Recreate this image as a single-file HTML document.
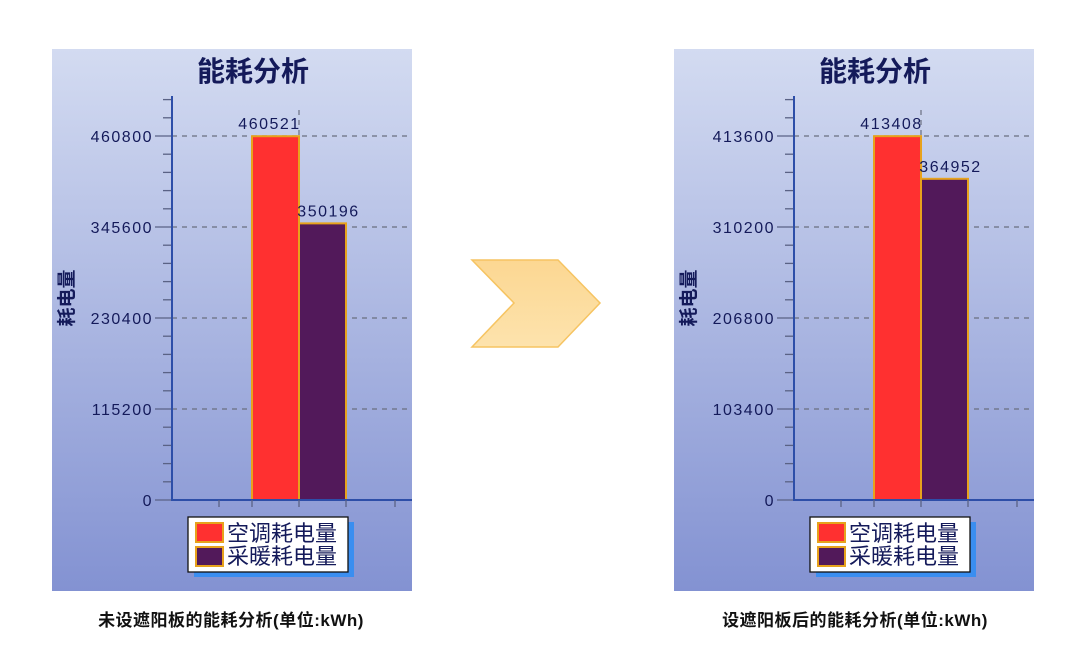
<!DOCTYPE html>
<html><head><meta charset="utf-8">
<style>
html,body{margin:0;padding:0;background:#fff;width:1080px;height:648px;overflow:hidden;}
svg{display:block;}
text{font-family:"Liberation Sans","Noto Sans CJK SC",sans-serif;}
</style></head>
<body>
<svg id="root" width="1080" height="648" viewBox="0 0 1080 648" xmlns="http://www.w3.org/2000/svg">
<defs>
<linearGradient id="bg" x1="0" y1="0" x2="0" y2="1">
<stop offset="0" stop-color="#d3dbf1"/><stop offset="1" stop-color="#8392d2"/>
</linearGradient>
<linearGradient id="arr" x1="0" y1="0" x2="0" y2="1">
<stop offset="0" stop-color="#fcd792"/><stop offset="1" stop-color="#fde3ad"/>
</linearGradient>
</defs>
<polygon points="472,260 558,260 600,303 558,347 472,347 514,303" fill="url(#arr)" stroke="#f6c462" stroke-width="1.5"/>
<text x="231" y="626" text-anchor="middle" font-size="17" font-weight="bold" fill="#111" letter-spacing="0.5">未设遮阳板的能耗分析(单位:kWh)</text>
<text x="855" y="626" text-anchor="middle" font-size="17" font-weight="bold" fill="#111" letter-spacing="0.5">设遮阳板后的能耗分析(单位:kWh)</text>
</svg>
<script>
const categories = ["空调耗电量", "采暖耗电量"];
const beforeValues = [460521, 350196];
const afterValues = [413408, 364952];
const beforeTicks = [0, 115200, 230400, 345600, 460800];
const afterTicks = [0, 103400, 206800, 310200, 413600];
const colors = ["#ff3030", "#52195a"];
const NS = "http://www.w3.org/2000/svg";
const root = document.getElementById("root");
function mk(parent, tag, attrs) {
  const e = document.createElementNS(NS, tag);
  for (const k in attrs) e.setAttribute(k, attrs[k]);
  parent.appendChild(e);
  return e;
}
function drawChart(ox, values, ticks, name) {
  const g = mk(root, "g", {});
  
  
  const bg = mk(g, "rect", {x: ox, y: 49, width: 360, height: 542, fill: "url(#bg)"});
  
  
  const title = mk(g, "text", {x: ox + 201, y: 81, "text-anchor": "middle", "font-size": 28, "font-weight": "bold", fill: "#141a5a"});
  title.textContent = "能耗分析";
  
  
  const ax = ox + 120, y0 = 500, yTop = 136;
  const maxT = ticks[ticks.length - 1];
  const yS = v => y0 - (v / maxT) * (y0 - yTop);
  const step = ticks[1] - ticks[0];
  ticks.forEach((t, i) => {
    const y = yS(t);
    if (i > 0) {
      const gl = mk(g, "line", {x1: ax, y1: y, x2: ox + 360, y2: y, stroke: "#6a6f80", "stroke-width": 1.2, "stroke-dasharray": "5,5"});
      
      
    }
    const tk = mk(g, "line", {x1: ax - 17, y1: y, x2: ax, y2: y, stroke: "#5a6285", "stroke-width": 1.3});
    
    
    const lb = mk(g, "text", {x: ax - 19, y: y + 6, "text-anchor": "end", "font-size": 16, "letter-spacing": 1.5, fill: "#141a5a"});
    lb.textContent = String(t);
    
    
  });
  for (let v = step / 5; v <= maxT + step * 0.4 + 1; v += step / 5) {
    if (Math.abs(v / step - Math.round(v / step)) < 1e-6) continue;
    const y = yS(v);
    const mt = mk(g, "line", {x1: ax - 9, y1: y, x2: ax, y2: y, stroke: "#5a6285", "stroke-width": 1.3});
    
    
  }
  const yt = mk(g, "text", {x: 0, y: 0, transform: `translate(${ox + 21},${298}) rotate(-90)`, "text-anchor": "middle", "font-size": 19, "font-weight": "bold", fill: "#141a5a"});
  yt.textContent = "耗电量";
  
  
  const bw = 47, bx0 = ox + 200;
  values.forEach((v, i) => {
    const x = bx0 + i * bw, y = yS(v);
    const b = mk(g, "rect", {x: x, y: y, width: bw, height: y0 - y, fill: colors[i], stroke: "#e7a21c", "stroke-width": 2});
    
    
    const vl = mk(g, "text", {x: x + bw / 2 + (i === 0 ? -6 : 6), y: y - 7, "text-anchor": "middle", "font-size": 16, "letter-spacing": 1.5, fill: "#141a5a"});
    vl.textContent = String(v);
    
    
  });
  const vd = mk(g, "line", {x1: bx0 + bw, y1: 110, x2: bx0 + bw, y2: yS(values[0]), stroke: "#6a6f80", "stroke-width": 1.2, "stroke-dasharray": "5,5"});
  
  
  const ya = mk(g, "line", {x1: ax, y1: 96, x2: ax, y2: y0 + 1, stroke: "#2d4ea8", "stroke-width": 2});
  
  
  const xa = mk(g, "line", {x1: ax, y1: y0, x2: ox + 360, y2: y0, stroke: "#2d4ea8", "stroke-width": 2});
  
  
  [ox + 167, ox + 200, ox + 247, ox + 294, ox + 343].forEach(x => {
    const xt = mk(g, "line", {x1: x, y1: y0, x2: x, y2: y0 + 7, stroke: "#5a6285", "stroke-width": 1.3});
    
    
  });
  const lg = mk(g, "g", {});
  
  
  mk(lg, "rect", {x: ox + 142, y: 522, width: 160, height: 55, fill: "#3a8ef0"});
  mk(lg, "rect", {x: ox + 136, y: 517, width: 160, height: 55, fill: "#fff", stroke: "#111", "stroke-width": 1.3});
  categories.forEach((c, i) => {
    const sw = mk(lg, "rect", {x: ox + 144, y: 523 + i * 24, width: 27, height: 19, fill: colors[i], stroke: "#e7a21c", "stroke-width": 2});
    
    
    const lt = mk(lg, "text", {x: ox + 175, y: 541 + i * 23, "font-size": 22, fill: "#141a5a"});
    lt.textContent = c;
    
    
  });
}
drawChart(52, beforeValues, beforeTicks, "before-chart");
drawChart(674, afterValues, afterTicks, "after-chart");
</script>
</body></html>
